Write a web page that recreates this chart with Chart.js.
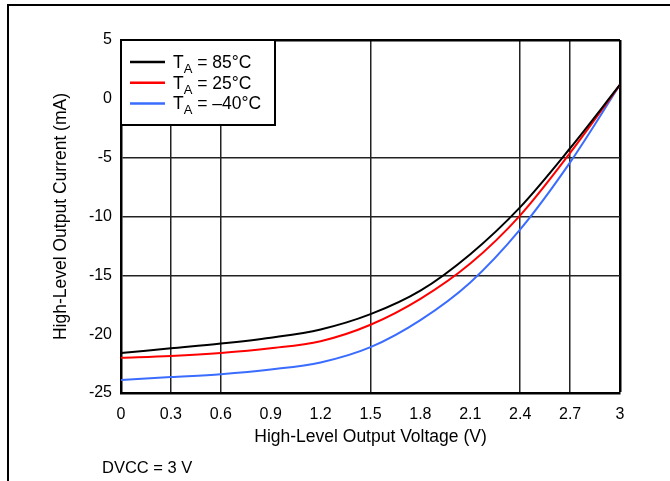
<!DOCTYPE html>
<html>
<head>
<meta charset="utf-8">
<script src="https://cdn.jsdelivr.net/npm/chart.js@4.4.0/dist/chart.umd.min.js"></script>
<style>
body { margin: 0; background: #fff; }
#wrap { position: relative; width: 670px; height: 481px; overflow: hidden; }
#frame { position: absolute; left: 7px; top: 4px; right: -5px; bottom: -5px; border-top: 2px solid #000; border-left: 2px solid #000; }
#note { position: absolute; left: 102px; top: 458px; font: 16.5px "Liberation Sans", Arial, sans-serif; color: #000; }
canvas { position: absolute; left: 0; top: 0; }
</style>
</head>
<body>
<div id="wrap">
  <div id="frame"></div>
  <canvas id="ivChart" width="670" height="481"></canvas>
  <div id="note">DVCC = 3 V</div>
</div>
<script>
// output voltage (V) and high-level output current (mA)
var voltage    = [0, 0.3, 0.6, 0.9, 1.2, 1.5, 1.8, 2.1, 2.4, 2.7, 3.0];
var current85  = [-21.6, -21.2, -20.8, -20.3, -19.6, -18.3, -16.3, -13.2, -9.2, -4.2, 1.2];
var current25  = [-22.0, -21.85, -21.6, -21.2, -20.6, -19.2, -17.0, -14.0, -9.9, -4.6, 1.2];
var currentM40 = [-23.9, -23.65, -23.4, -23.0, -22.4, -21.1, -18.8, -15.6, -11.1, -5.4, 1.2];

var tempLabels = ['85°C', '25°C', '\u201340°C'];
var lineColors = ['#000000', '#ff0000', '#3a6cff'];

// only some of the ticks get a grid line in the original
var gridX = [0.3, 0.6, 1.5, 2.4, 2.7];
var gridY = [-5, -10, -15];

var FONT = '"Liberation Sans", Arial, sans-serif';

function toPoints(ys) {
	return voltage.map(function(v, i) { return {x: v, y: ys[i]}; });
}

function onList(list, v) {
	return list.some(function(g) { return Math.abs(g - v) < 1e-6; });
}

// legend with subscript "A", drawn in the top left corner of the plot
var legendBox = {
	id: 'legendBox',
	afterDatasetsDraw: function(chart) {
		var ctx = chart.ctx, a = chart.chartArea;
		ctx.save();
		ctx.fillStyle = '#fff';
		ctx.fillRect(a.left, a.top, 154, 85);
		ctx.lineWidth = 2;
		ctx.strokeStyle = '#000';
		ctx.strokeRect(a.left, a.top, 154, 85);
		chart.data.datasets.forEach(function(ds, i) {
			var y = a.top + 22 + i * 20.7;
			ctx.strokeStyle = ds.borderColor;
			ctx.lineWidth = 2.5;
			ctx.beginPath();
			ctx.moveTo(a.left + 9, y);
			ctx.lineTo(a.left + 44, y);
			ctx.stroke();
			ctx.fillStyle = '#000';
			ctx.textBaseline = 'alphabetic';
			var x = a.left + 52;
			ctx.font = '17.5px ' + FONT;
			ctx.fillText('T', x, y + 6);
			x += ctx.measureText('T').width;
			ctx.font = '13px ' + FONT;
			ctx.fillText('A', x, y + 11);
			x += ctx.measureText('A').width;
			ctx.font = '17.5px ' + FONT;
			ctx.fillText(' = ' + tempLabels[i], x, y + 6);
		});
		ctx.restore();
	}
};

var datasets = [current85, current25, currentM40].map(function(ys, i) {
	return {
		label: 'TA = ' + tempLabels[i],
		data: toPoints(ys),
		borderColor: lineColors[i],
		backgroundColor: lineColors[i],
		borderWidth: 2,
		pointRadius: 0,
		cubicInterpolationMode: 'monotone',
		fill: false
	};
});

new Chart(document.getElementById('ivChart'), {
	type: 'line',
	data: { datasets: datasets },
	options: {
		responsive: false,
		animation: false,
		layout: { padding: { left: 0, right: 50, top: 40, bottom: 0 } },
		plugins: {
			legend: { display: false },
			tooltip: { enabled: false }
		},
		scales: {
			x: {
				type: 'linear',
				min: 0,
				max: 3,
				afterFit: function(scale) { scale.height = 88; },
				ticks: {
					stepSize: 0.3,
					padding: 12,
					color: '#000',
					font: { family: FONT, size: 16 },
					callback: function(v) { return String(Math.round(v * 10) / 10); }
				},
				grid: {
					drawTicks: false,
					color: function(c) {
						if (!c.tick) return 'transparent';
						if (Math.abs(c.tick.value - 3) < 1e-6) return '#000';
						return onList(gridX, c.tick.value) ? '#222' : 'transparent';
					},
					lineWidth: function(c) {
						return c.tick && Math.abs(c.tick.value - 3) < 1e-6 ? 2.5 : 1.5;
					}
				},
				border: { display: true, color: '#000', width: 2.5 },
				title: {
					display: true,
					text: 'High-Level Output Voltage (V)',
					color: '#000',
					font: { family: FONT, size: 17.5 },
					padding: { top: 0, bottom: 33 }
				}
			},
			y: {
				min: -25,
				max: 5,
				afterFit: function(scale) { scale.width = 121; },
				ticks: {
					stepSize: 5,
					padding: 9,
					color: '#000',
					font: { family: FONT, size: 16 }
				},
				grid: {
					drawTicks: false,
					color: function(c) {
						if (!c.tick) return 'transparent';
						if (c.tick.value === 5) return '#000';
						return onList(gridY, c.tick.value) ? '#222' : 'transparent';
					},
					lineWidth: function(c) {
						return c.tick && c.tick.value === 5 ? 2.5 : 1.5;
					}
				},
				border: { display: true, color: '#000', width: 2.5 },
				title: {
					display: true,
					text: 'High-Level Output Current (mA)',
					color: '#000',
					font: { family: FONT, size: 17.5 },
					padding: { top: 51, bottom: 0 }
				}
			}
		}
	},
	plugins: [legendBox]
});
</script>
</body>
</html>
